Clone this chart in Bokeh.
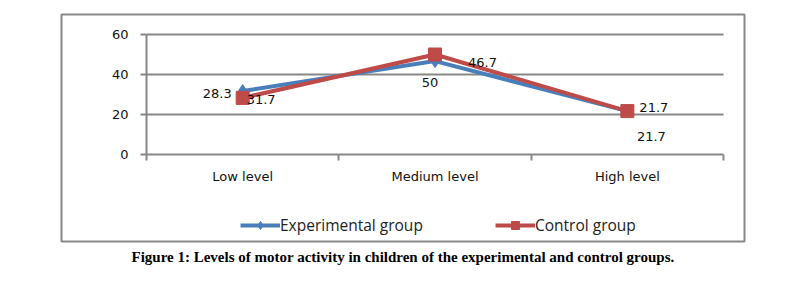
from bokeh.plotting import figure
from bokeh.models import (Range1d, FixedTicker, Legend, LegendItem, LabelSet,
                          ColumnDataSource, Title)
from bokeh.core.properties import value
from bokeh.embed import file_html
from bokeh.resources import INLINE

categories = ["Low level", "Medium level", "High level"]
experimental = [31.7, 46.7, 21.7]
control = [28.3, 50.0, 21.7]
y_ticks = [0, 20, 40, 60]
series_names = ["Experimental group", "Control group"]
caption = "Figure 1: Levels of motor activity in children of the experimental and control groups."

# label offsets (pixels) - styling only
exp_dx = [4, 33, 12]
exp_dy = [-8, -1, 4]
exp_align = ["left", "left", "left"]
ctl_dx = [-11, -5, 24]
ctl_dy = [4, -28, -25]
ctl_align = ["right", "center", "center"]

BLUE = "#4A7EBB"
RED = "#BE4B48"
GRAY = "#878787"

n = len(categories)
xs = [i + 0.5 for i in range(n)]
ymax = y_ticks[-1]

# frame = outer chart box; plot area occupies 0..n / 0..ymax inside it
p = figure(width=801, height=281, output_backend="svg", toolbar_location=None,
           x_range=Range1d(-0.442, n + 0.109), y_range=Range1d(-43.5, 70),
           min_border_left=61, min_border_right=57, min_border_top=14,
           min_border_bottom=40)
p.outline_line_color = GRAY
p.outline_line_width = 2
p.background_fill_color = "white"
p.border_fill_color = "white"
p.xgrid.visible = False
p.ygrid.visible = False

# horizontal gridlines limited to the plot area
p.segment(x0=[0] * (len(y_ticks) - 1), x1=[n] * (len(y_ticks) - 1),
          y0=y_ticks[1:], y1=y_ticks[1:], line_color=GRAY, line_width=2)

xa = p.xaxis[0]
xa.fixed_location = 0
xa.bounds = (0, n)
xa.ticker = FixedTicker(ticks=xs, minor_ticks=list(range(n + 1)))
xa.major_label_overrides = {x: c for x, c in zip(xs, categories)}
xa.major_tick_out = 0
xa.major_tick_in = 0
xa.minor_tick_out = 6
xa.minor_tick_in = 0
xa.minor_tick_line_color = GRAY
xa.minor_tick_line_width = 2
xa.axis_line_color = GRAY
xa.axis_line_width = 2
xa.major_label_standoff = 8
xa.major_label_text_font = "DejaVu Sans"
xa.major_label_text_font_size = "13px"
xa.major_label_text_color = "#111111"

ya = p.yaxis[0]
ya.fixed_location = 0
ya.bounds = (0, ymax)
ya.ticker = FixedTicker(ticks=y_ticks)
ya.major_tick_out = 6
ya.major_tick_in = 0
ya.major_tick_line_color = GRAY
ya.major_tick_line_width = 2
ya.minor_tick_line_color = None
ya.axis_line_color = GRAY
ya.axis_line_width = 2
ya.major_label_standoff = 12
ya.major_label_text_font = "DejaVu Sans"
ya.major_label_text_font_size = "13px"
ya.major_label_text_color = "#111111"

l1 = p.line(xs, experimental, line_color=BLUE, line_width=4)
m1 = p.scatter(xs, experimental, marker="diamond", size=13, color=BLUE)
l2 = p.line(xs, control, line_color=RED, line_width=4)
m2 = p.scatter(xs, control, marker="square", size=13, color=RED)

src_e = ColumnDataSource(dict(x=xs, y=experimental, t=[f"{v:g}" for v in experimental],
                              dx=exp_dx, dy=exp_dy, a=exp_align))
src_c = ColumnDataSource(dict(x=xs, y=control, t=[f"{v:g}" for v in control],
                              dx=ctl_dx, dy=ctl_dy, a=ctl_align))
for src in (src_e, src_c):
    p.add_layout(LabelSet(x="x", y="y", text="t", source=src, x_offset="dx", y_offset="dy",
                          text_align="a", text_baseline="middle",
                          text_font=value("DejaVu Sans"), text_font_size="13px",
                          text_color="#111111"))

def make_legend(name, rs, loc):
    lg = Legend(items=[LegendItem(label=name, renderers=rs)], location=loc,
                orientation="horizontal", padding=0, margin=0, spacing=0,
                glyph_width=40, glyph_height=20, label_standoff=0,
                label_text_font="Open Sans", label_text_font_size="15.5px",
                label_text_color="#222222", border_line_color=None,
                background_fill_alpha=0)
    p.add_layout(lg, "center")

make_legend(series_names[0], [l1, m1], (179, 5))
make_legend(series_names[1], [l2, m2], (434, 5))

p.add_layout(Title(text=caption, align="center", text_font="Liberation Serif",
                   text_font_style="bold", text_font_size="15px",
                   text_color="#000000", standoff=11), "below")

open("out.html", "w").write(file_html(p, INLINE))
